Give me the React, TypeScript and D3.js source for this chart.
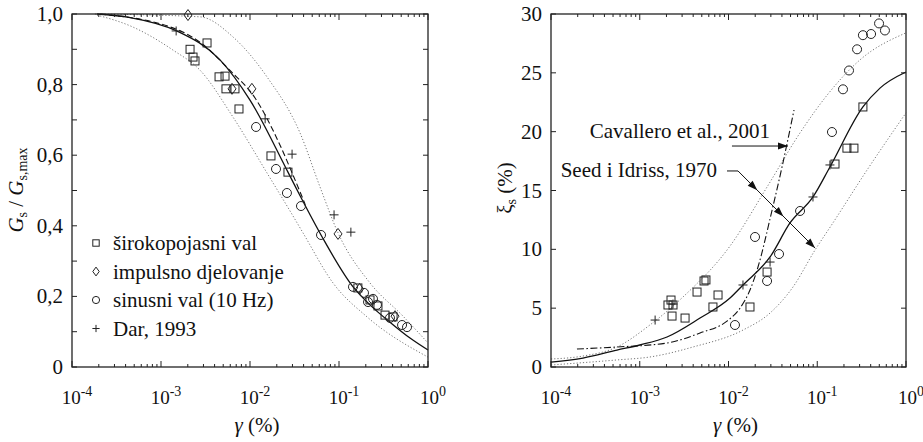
import * as d3 from 'd3';

// ---- left panel: G/Gmax ----
const lSolidG = [1.9e-4, 4.5e-4, 0.0015, 0.0046, 0.01, 0.0267, 0.0374, 0.0628, 0.144, 0.223, 0.374, 0.628, 1.0];
const lSolidV = [1.0, 0.99, 0.952, 0.87, 0.756, 0.552, 0.48, 0.374, 0.227, 0.176, 0.127, 0.082, 0.048];
const lDashG = [2.07e-4, 0.00155, 0.00274, 0.00596, 0.0114, 0.0217, 0.0304, 0.0415];
const lDashV = [1.0, 0.955, 0.92, 0.84, 0.762, 0.629, 0.544, 0.462];
const lUpG = [1.81e-4, 0.00274, 0.00644, 0.0155, 0.0365, 0.0612, 0.0975, 0.223, 0.524, 0.975];
const lUpV = [1.0, 0.992, 0.935, 0.822, 0.663, 0.51, 0.38, 0.238, 0.144, 0.071];
const lLowG = [1.91e-4, 4.84e-4, 0.00136, 0.00274, 0.00644, 0.0155, 0.0304, 0.0394, 0.0857, 0.2065, 1.0];
const lLowV = [0.997, 0.963, 0.898, 0.841, 0.708, 0.55, 0.428, 0.38, 0.238, 0.142, 0.028];

const lSqG = [0.00212, 0.00229, 0.00241, 0.00329, 0.00449, 0.00524, 0.00537, 0.00678, 0.00752, 0.0172, 0.0267, 0.163, 0.223, 0.274, 0.329, 0.405];
const lSqV = [0.9, 0.878, 0.867, 0.918, 0.822, 0.824, 0.788, 0.788, 0.731, 0.598, 0.552, 0.224, 0.19, 0.173, 0.147, 0.142];
const lDiG = [0.00201, 0.00628, 0.0105, 0.0975, 0.17, 0.426];
const lDiV = [0.997, 0.788, 0.788, 0.377, 0.221, 0.144];
const lCiG = [0.0117, 0.0196, 0.026, 0.0374, 0.0628, 0.1436, 0.191, 0.212, 0.241, 0.267, 0.374, 0.511, 0.581];
const lCiV = [0.68, 0.561, 0.493, 0.456, 0.374, 0.227, 0.21, 0.184, 0.193, 0.176, 0.139, 0.119, 0.113];
const lPlG = [0.00148, 0.0148, 0.0297, 0.088, 0.136];
const lPlV = [0.952, 0.703, 0.603, 0.431, 0.382];

const legendLabels = ['širokopojasni val', 'impulsno djelovanje', 'sinusni val (10 Hz)', 'Dar, 1993'];
const leftTicks = [0, 0.2, 0.4, 0.6, 0.8, 1.0];

// ---- right panel: damping ----
const rSolidG = [1e-4, 2.29e-4, 5.54e-4, 1.0e-3, 2.03e-3, 4.78e-3, 0.0104, 0.01456, 0.0294, 0.0493, 0.0895, 0.139, 0.327, 0.509, 1.0];
const rSolidV = [0.42, 0.76, 1.44, 1.87, 2.55, 4.16, 5.86, 6.97, 9.35, 12.24, 14.45, 17.0, 22.1, 23.7, 25.07];
const rCavG = [1.96e-4, 5.54e-4, 2.03e-3, 4.78e-3, 0.00962, 0.01349, 0.01746, 0.0215, 0.0309, 0.0401, 0.0547];
const rCavV = [1.53, 1.7, 2.04, 2.89, 3.9, 5.0, 6.54, 8.5, 13.3, 17.0, 21.84];
const rUpG = [1e-4, 2.29e-4, 5.54e-4, 1.3e-3, 3.07e-3, 0.0104, 0.0272, 0.064, 0.129, 0.303, 1.0];
const rUpV = [0.68, 0.93, 1.7, 3.57, 5.95, 10.28, 15.3, 19.9, 23.1, 26.1, 28.4];
const rLowG = [1e-4, 5.54e-4, 1.3e-3, 0.00398, 0.01456, 0.0294, 0.0533, 0.0944, 0.15, 0.364, 1.0];
const rLowV = [0.17, 0.6, 0.85, 1.7, 3.14, 4.59, 6.8, 9.94, 12.24, 16.74, 21.6];

const rSqG = [0.00225, 0.00208, 0.00237, 0.00231, 0.00324, 0.00442, 0.0053, 0.00557, 0.00668, 0.00762, 0.01746, 0.0272, 0.1585, 0.216, 0.259, 0.327];
const rSqV = [5.69, 5.27, 5.27, 4.33, 4.16, 6.37, 7.31, 7.4, 5.1, 6.12, 5.1, 8.07, 17.25, 18.6, 18.6, 22.1];
const rCiG = [0.01183, 0.0199, 0.0272, 0.0371, 0.064, 0.1465, 0.195, 0.228, 0.281, 0.327, 0.404, 0.497, 0.579];
const rCiV = [3.57, 11.05, 7.31, 9.6, 13.26, 19.97, 23.6, 25.2, 27.0, 28.2, 28.3, 29.2, 28.6];
const rPlG = [0.00149, 0.00237, 0.01456, 0.0294, 0.0895, 0.139];
const rPlV = [3.99, 5.35, 6.97, 8.92, 14.45, 17.17];
const rightTicks = [0, 5, 10, 15, 20, 25, 30];

const decades = [-4, -3, -2, -1, 0];

const FONT = 'Liberation Serif';
const GRID = '#777';
const FS = 21;

type Scale = d3.ScaleLogarithmic<number, number>;
type YScale = d3.ScaleLinear<number, number>;

function Marker({ type, x, y, k = 1 }: { type: string; x: number; y: number; k?: number }) {
  const p = { fill: 'none', stroke: '#222', strokeWidth: 1 };
  if (type === 'sq') return <rect x={x - 4 * k} y={y - 4 * k} width={8 * k} height={8 * k} {...p} />;
  if (type === 'ci') return <circle cx={x} cy={y} r={4.5 * k} {...p} />;
  if (type === 'di')
    return <path d={`M${x},${y - 5.5 * k}L${x + 4 * k},${y}L${x},${y + 5.5 * k}L${x - 4 * k},${y}Z`} {...p} />;
  return <path d={`M${x - 4.5 * k},${y}H${x + 4.5 * k}M${x},${y - 4.5 * k}V${y + 4.5 * k}`} {...p} />;
}

function Curve({ g, v, x, y, dash, color = '#111', w = 1.3 }: { g: number[]; v: number[]; x: Scale; y: YScale; dash?: string; color?: string; w?: number }) {
  const line = d3.line<number>().x((_, i) => x(g[i])).y((d) => y(d)).curve(d3.curveMonotoneX);
  return <path d={line(v) || ''} fill="none" stroke={color} strokeWidth={w} strokeDasharray={dash} />;
}

function Points({ g, v, x, y, type }: { g: number[]; v: number[]; x: Scale; y: YScale; type: string }) {
  return <g>{g.map((d, i) => <Marker key={i} type={type} x={x(d)} y={y(v[i])} />)}</g>;
}

function Frame({ x, y, yTicks, minorY, fmt }: { x: Scale; y: YScale; yTicks: number[]; minorY: number[]; fmt: (d: number) => string }) {
  const [x0, x1] = x.range();
  const [y0, y1] = y.range();
  const minors: number[] = [];
  decades.slice(0, -1).forEach((e) => { for (let m = 2; m < 10; m++) minors.push(m * Math.pow(10, e)); });
  return (
    <g>
      <rect x={x0} y={y1} width={x1 - x0} height={y0 - y1} fill="none" stroke="#222" strokeWidth={1.3} />
      {decades.map((e) => {
        const px = x(Math.pow(10, e));
        return (
          <g key={e}>
            <line x1={px} x2={px} y1={y0} y2={y0 - 6} stroke="#222" />
            <line x1={px} x2={px} y1={y1} y2={y1 + 6} stroke="#222" />
            <text x={px + 5} y={404} fontSize={19} textAnchor="middle" fill="#111">
              10<tspan dy={-8} fontSize={14}>{e === 0 ? '0' : `-${-e}`}</tspan>
            </text>
          </g>
        );
      })}
      {minors.map((m, i) => {
        const px = x(m);
        return (
          <g key={i}>
            <line x1={px} x2={px} y1={y0} y2={y0 - 3} stroke="#222" />
            <line x1={px} x2={px} y1={y1} y2={y1 + 3} stroke="#222" />
          </g>
        );
      })}
      {minorY.map((t, i) => (
        <g key={i}>
          <line x1={x0} x2={x0 + 5} y1={y(t)} y2={y(t)} stroke="#222" />
          <line x1={x1} x2={x1 - 5} y1={y(t)} y2={y(t)} stroke="#222" />
        </g>
      ))}
      {yTicks.map((t) => (
        <text key={t} x={x0 - 9} y={y(t) + 7} fontSize={FS} textAnchor="end" fill="#111">
          {fmt(t)}
        </text>
      ))}
      <text x={(x0 + x1) / 2 + 7} y={432} fontSize={FS} textAnchor="middle" fill="#111">
        <tspan fontStyle="italic">γ</tspan> (%)
      </text>
    </g>
  );
}

function Arrowhead({ x, y, angle }: { x: number; y: number; angle: number }) {
  return (
    <path d="M0,0L-10,-3.5L-10,3.5Z" fill="#111" transform={`translate(${x},${y}) rotate(${angle})`} />
  );
}

export default function App() {
  const xl = d3.scaleLog().domain([1e-4, 1]).range([72, 428]);
  const yl = d3.scaleLinear().domain([0, 1]).range([367, 14]);
  const xr = d3.scaleLog().domain([1e-4, 1]).range([551, 906]);
  const yr = d3.scaleLinear().domain([0, 30]).range([367, 14]);

  const minorLeft = d3.range(0, 11).map((d) => d / 10);
  const fmtLeft = (d: number) => (d === 0 ? '0' : d.toFixed(1).replace('.', ','));

  // annotation anchors (data coords)
  const cavA = [xr(0.01094), yr(18.78)];
  const cavB = [xr(0.0468), yr(18.78)];
  const seedA = [xr(0.00962), yr(16.66)];
  const seedB = [xr(0.0128), yr(16.66)];
  const seedC = [xr(0.0944), yr(10.11)];
  const ang = (Math.atan2(seedC[1] - seedB[1], seedC[0] - seedB[0]) * 180) / Math.PI;
  const along = (t: number) => [seedB[0] + (seedC[0] - seedB[0]) * t, seedB[1] + (seedC[1] - seedB[1]) * t];
  const m1 = along(0.25);
  const m2 = along(0.59);

  const legendTypes = ['sq', 'di', 'ci', 'pl'];

  return (
    <svg width={923} height={442} style={{ position: 'absolute', left: 0, top: 0, background: '#fff', fontFamily: FONT }}>
      {/* left panel */}
      <Curve g={lUpG} v={lUpV} x={xl} y={yl} dash="1.2,2" color={GRID} w={1} />
      <Curve g={lLowG} v={lLowV} x={xl} y={yl} dash="1.2,2" color={GRID} w={1} />
      <Curve g={lSolidG} v={lSolidV} x={xl} y={yl} />
      <Curve g={lDashG} v={lDashV} x={xl} y={yl} dash="6,3" w={1.1} />
      <Points g={lSqG} v={lSqV} x={xl} y={yl} type="sq" />
      <Points g={lDiG} v={lDiV} x={xl} y={yl} type="di" />
      <Points g={lCiG} v={lCiV} x={xl} y={yl} type="ci" />
      <Points g={lPlG} v={lPlV} x={xl} y={yl} type="pl" />
      <Frame x={xl} y={yl} yTicks={leftTicks} minorY={minorLeft} fmt={fmtLeft} />
      {legendLabels.map((t, i) => (
        <g key={t}>
          <Marker type={legendTypes[i]} x={96} y={243 + i * 28.5} k={0.8} />
          <text x={113} y={250 + i * 28.5} fontSize={FS} fill="#111">{t}</text>
        </g>
      ))}
      <text transform="translate(23,190) rotate(-90)" fontSize={FS} textAnchor="middle" fill="#111">
        <tspan fontStyle="italic">G</tspan>
        <tspan fontSize={14} dy={4}>s</tspan>
        <tspan dy={-4}> / </tspan>
        <tspan fontStyle="italic">G</tspan>
        <tspan fontSize={14} dy={4}>s,max</tspan>
      </text>

      {/* right panel */}
      <Curve g={rUpG} v={rUpV} x={xr} y={yr} dash="1.2,2" color={GRID} w={1} />
      <Curve g={rLowG} v={rLowV} x={xr} y={yr} dash="1.2,2" color={GRID} w={1} />
      <Curve g={rSolidG} v={rSolidV} x={xr} y={yr} />
      <Curve g={rCavG} v={rCavV} x={xr} y={yr} dash="7,2.5,1.5,2.5" w={1.1} />
      <Points g={rSqG} v={rSqV} x={xr} y={yr} type="sq" />
      <Points g={rCiG} v={rCiV} x={xr} y={yr} type="ci" />
      <Points g={rPlG} v={rPlV} x={xr} y={yr} type="pl" />
      <Frame x={xr} y={yr} yTicks={rightTicks} minorY={rightTicks} fmt={(d) => String(d)} />
      <text transform="translate(512,188) rotate(-90)" fontSize={FS} textAnchor="middle" fill="#111">
        <tspan>ξ</tspan>
        <tspan fontSize={14} dy={4}>s</tspan>
        <tspan dy={-4}> (%)</tspan>
      </text>

      <text x={cavA[0] + 38} y={138} fontSize={FS} textAnchor="end" fill="#111">Cavallero et al., 2001</text>
      <line x1={cavA[0]} y1={cavA[1]} x2={cavB[0]} y2={cavB[1]} stroke="#111" strokeWidth={1} />
      <Arrowhead x={cavB[0]} y={cavB[1]} angle={0} />

      <text x={seedA[0] - 10} y={177} fontSize={FS} textAnchor="end" fill="#111">Seed i Idriss, 1970</text>
      <path d={`M${seedA[0]},${seedA[1]}L${seedB[0]},${seedB[1]}L${seedC[0]},${seedC[1]}`} fill="none" stroke="#111" strokeWidth={1} />
      <Arrowhead x={m1[0]} y={m1[1]} angle={ang} />
      <Arrowhead x={m2[0]} y={m2[1]} angle={ang} />
      <Arrowhead x={seedC[0]} y={seedC[1]} angle={ang} />
    </svg>
  );
}
